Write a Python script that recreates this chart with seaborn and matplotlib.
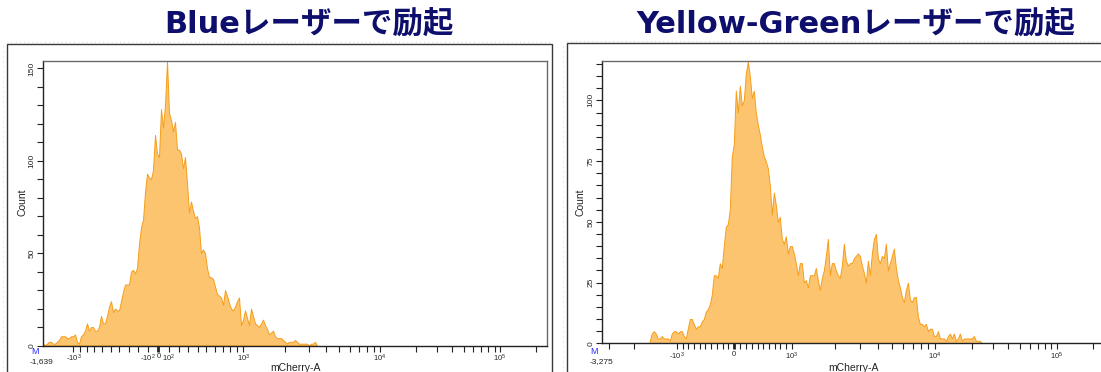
import numpy as np
import matplotlib
matplotlib.use("Agg")
import matplotlib.pyplot as plt
from matplotlib.patches import Rectangle
from matplotlib.lines import Line2D
import seaborn as sns

# ---- data: counts per display channel (2-channel bins) ----
blue_start = 0
blue_counts = [
    1, 0, 1, 2, 2, 1, 1, 2, 3, 5,
    5, 5, 4, 4, 5, 5, 6, 2, 1, 5,
    6, 8, 12, 8, 10, 10, 8, 8, 10, 16,
    12, 12, 16, 21, 24, 18, 20, 19, 19, 24,
    29, 33, 33, 33, 40, 41, 39, 42, 55, 64,
    68, 83, 93, 91, 90, 95, 114, 104, 102, 128,
    118, 130, 154, 126, 122, 116, 121, 106, 106, 104,
    96, 102, 88, 72, 78, 73, 69, 70, 64, 50,
    52, 50, 42, 37, 37, 36, 32, 28, 27, 26,
    22, 30, 27, 23, 20, 19, 21, 24, 26, 11,
    14, 19, 15, 11, 20, 16, 12, 11, 10, 12,
    14, 11, 9, 6, 7, 8, 5, 4, 4, 4,
    3, 2, 1, 2, 2, 2, 3, 2, 1, 1,
    1, 1, 1, 0, 1, 1, 2, 0,
]

yg_start = 48
yg_counts = [
    1, 4, 5, 4, 2, 2, 3, 2, 2, 2,
    1, 4, 5, 5, 4, 5, 5, 3, 2, 6,
    10, 10, 8, 6, 7, 7, 9, 10, 13, 14,
    16, 20, 28, 28, 27, 33, 31, 40, 48, 49,
    55, 77, 82, 104, 95, 106, 98, 100, 111, 116,
    110, 101, 104, 95, 90, 86, 81, 77, 75, 72,
    65, 53, 62, 57, 50, 52, 43, 41, 44, 37,
    40, 40, 37, 33, 28, 33, 33, 25, 26, 23,
    28, 28, 28, 31, 26, 22, 27, 30, 36, 43,
    28, 33, 33, 30, 28, 27, 32, 41, 34, 32,
    33, 33, 35, 36, 37, 36, 32, 29, 25, 34,
    28, 37, 43, 45, 35, 33, 36, 35, 41, 30,
    33, 36, 39, 31, 26, 23, 19, 17, 22, 25,
    18, 17, 19, 19, 11, 8, 8, 7, 8, 5,
    6, 6, 3, 3, 5, 2, 2, 2, 1, 3,
    4, 2, 4, 1, 2, 4, 1, 2, 2, 2,
    2, 2, 3, 1, 1, 1, 0,
]
CH_STEP = 2

titles = ["Blueレーザーで励起", "Yellow-Greenレーザーで励起"]
x_title = "mCherry-A"
y_title = "Count"
axis_min_labels = ["-1,639", "-3,275"]

blue_ymax = 154
blue_yticks = [0, 50, 100, 150]
blue_yminor = 10
yg_ymax = 116.2
yg_yticks = [0, 25, 50, 75, 100]
yg_yminor = 5

blue_major = [-1000, -100, 0, 100, 1000, 10000, 100000]
blue_major_labels = ["-10$^3$", "-10$^2$", "0", "10$^2$", "10$^3$", "10$^4$", "10$^5$"]
yg_major = [-1000, 0, 1000, 10000, 100000]
yg_major_labels = ["-10$^3$", "0", "10$^3$", "10$^4$", "10$^5$"]

# ---- style ----
FILL = "#FDC46F"
LINE = "#F59E1B"
TITLE_C = "#0E0E6C"
sns.set_style("white")
plt.rcParams["font.family"] = ["Liberation Sans", "DejaVu Sans"]
plt.rcParams["mathtext.fontset"] = "custom"
plt.rcParams["mathtext.rm"] = "Liberation Sans"
plt.rcParams["mathtext.it"] = "Liberation Sans"

W, H = 1101, 372
fig = plt.figure(figsize=(W / 100, H / 100), dpi=100)


def px_box(x0, x1, ytop, ybot):
    return [x0 / W, (H - ybot) / H, (x1 - x0) / W, (ybot - ytop) / H]


def biex_map(zero, p3, p4, p5, c):
    """Display-channel position of a value on a biexponential-style axis."""
    half = p3 - zero

    def f(v):
        s = np.sign(v)
        a = abs(v)
        if a <= 1000:
            return zero + s * half * np.arcsinh(a / c) / np.arcsinh(1000 / c)
        lg = np.log10(a)
        pos = [half, p4 - zero, p5 - zero]
        if lg <= 5:
            d = np.interp(lg, [3, 4, 5], pos)
        else:
            d = pos[2] + (lg - 5) * (pos[2] - pos[1])
        return zero + s * d
    return f


def minor_values(lo, hi):
    vals = []
    for dec in [100, 1000, 10000, 100000]:
        for m in range(2, 10):
            for v in (m * dec, -m * dec):
                if lo < v < hi:
                    vals.append(v)
    vals += [v for v in (100, -100) if lo < v < hi]
    return vals


panels = [
    dict(box=px_box(43, 547, 61, 345.5), start=blue_start, counts=blue_counts,
         fmap=biex_map(115.5, 200.5, 337, 457, 800), vmin=-1639,
         major=blue_major, labels=blue_major_labels, ymax=blue_ymax,
         yticks=blue_yticks, yminor=blue_yminor, frame_x=(7, 552), frame_top=44,
         title_x=309, count_x=22, m_x=35, min_x=42, xlab_x=295),
    dict(box=px_box(602, 1106, 61, 343.3), start=yg_start, counts=yg_counts,
         fmap=biex_map(132.5, 189.7, 333, 454.7, 3000), vmin=-3275,
         major=yg_major, labels=yg_major_labels, ymax=yg_ymax,
         yticks=yg_yticks, yminor=yg_yminor, frame_x=(567, 1200), frame_top=43,
         title_x=856, count_x=581, m_x=594, min_x=601, xlab_x=853),
]

for i, p in enumerate(panels):
    # outer layout frame
    fx0, fx1 = p["frame_x"]
    fig.add_artist(Rectangle((fx0 / W, -0.2), (fx1 - fx0) / W, (H - p["frame_top"]) / H + 0.2,
                             transform=fig.transFigure, fill=False, edgecolor="#3a3a3a",
                             linewidth=1.0, clip_on=False))
    fig.add_artist(Line2D([fx0 / W, min(fx1, W) / W], [(H - p["frame_top"] + 2.5) / H] * 2,
                          transform=fig.transFigure, color="#c8c8c8", lw=0.6,
                          linestyle=(0, (1, 4))))
    fig.add_artist(Line2D([(fx0 - 4) / W] * 2, [0, (H - p["frame_top"]) / H],
                          transform=fig.transFigure, color="#c8c8c8", lw=0.6,
                          linestyle=(0, (1, 5))))

    ax = fig.add_axes(p["box"])
    counts = np.asarray(p["counts"], dtype=float)
    centers = p["start"] + CH_STEP * np.arange(len(counts))
    edges = list(np.append(centers - CH_STEP / 2, centers[-1] + CH_STEP / 2))
    sns.histplot(x=centers, weights=counts, bins=edges, element="poly", fill=True,
                 facecolor=FILL, edgecolor=LINE, linewidth=0.7, ax=ax)

    fmap = p["fmap"]
    ax.set_xlim(fmap(p["vmin"]) - 1.2, 504)
    ax.set_ylim(0, p["ymax"])
    ax.set_xlabel("")
    ax.set_ylabel("")

    # x axis ticks
    ax.set_xticks([fmap(v) for v in p["major"]])
    ax.set_xticklabels(p["labels"])
    ax.set_xticks([fmap(v) for v in minor_values(p["vmin"], 262144)
                   if v not in p["major"]], minor=True)
    ax.tick_params(axis="x", which="both", direction="out", length=4, width=0.8,
                   color="#222222", labelsize=5.5, pad=1.5, bottom=True)
    for t, v in zip(ax.xaxis.get_major_ticks(), p["major"]):
        if v == 0:
            t.tick1line.set_markeredgewidth(2.0)

    # y axis ticks
    ax.set_yticks(p["yticks"])
    ax.set_yticklabels([str(v) for v in p["yticks"]])
    ax.set_yticks(np.arange(0, p["ymax"], p["yminor"]), minor=True)
    ax.tick_params(axis="y", which="both", direction="out", length=4, width=0.8,
                   color="#222222", labelsize=6, pad=1.5, left=True,
                   labelrotation=90)
    for lab in ax.get_yticklabels():
        lab.set_va("center")

    for side in ("left", "bottom"):
        ax.spines[side].set_color("#222222")
        ax.spines[side].set_linewidth(1.0)
    for side in ("top", "right"):
        ax.spines[side].set_color("#6a6a6a")
        ax.spines[side].set_linewidth(1.0)

    # texts
    fig.text(p["title_x"] / W, (H - 25) / H, titles[i], ha="center", va="center",
             fontsize=22, fontweight="bold", color=TITLE_C,
             family=["DejaVu Sans", "Noto Sans CJK JP"])
    fig.text(p["count_x"] / W, (H - 202) / H, y_title, rotation=90, ha="center",
             va="center", fontsize=7.5, color="#222222")
    fig.text(p["xlab_x"] / W, (H - 368) / H, x_title, ha="center", va="center",
             fontsize=7.5, color="#222222")
    fig.text(p["m_x"] / W, (H - 351) / H, "M", ha="center", va="center",
             fontsize=6.5, color="#2a2aff")
    fig.text(p["min_x"] / W, (H - 362) / H, axis_min_labels[i], ha="center",
             va="center", fontsize=6, color="#222222")

fig.savefig("out.png", dpi=100, facecolor="white")
